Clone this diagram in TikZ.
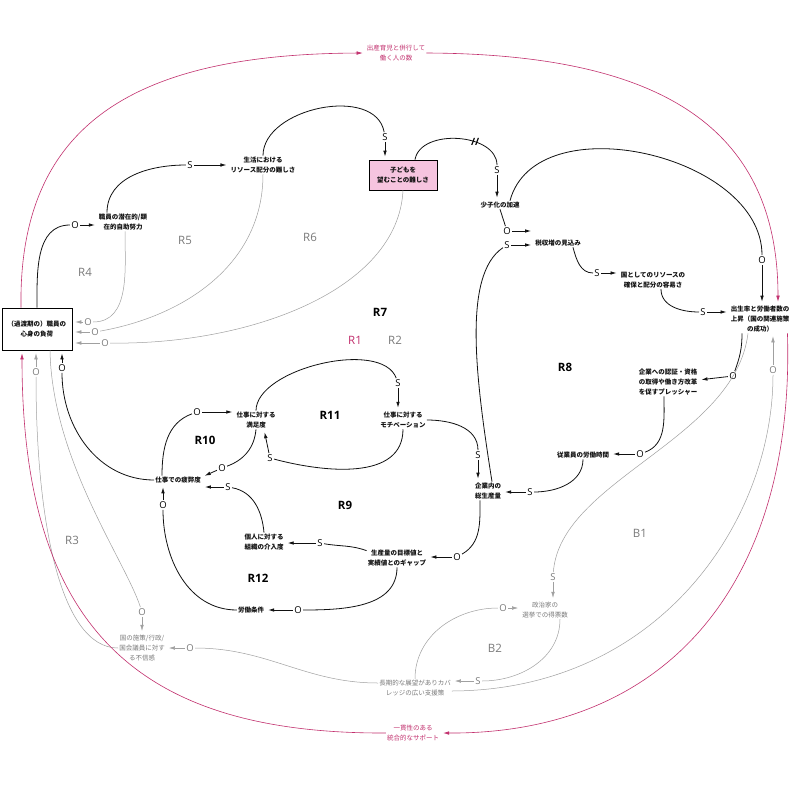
\documentclass[tikz,border=0pt]{standalone}
\usepackage{fontspec}
\setmainfont{Open Sans}
\newfontfamily\jp{Noto Sans CJK JP}
\usetikzlibrary{arrows.meta}
\definecolor{Ink}{HTML}{111111}
\definecolor{Rose}{HTML}{C2306E}
\definecolor{Ash}{HTML}{A0A0A0}
\definecolor{AshText}{HTML}{7A7A7A}
\definecolor{BoxPink}{HTML}{F6C4DF}

\tikzset{
  var/.style={font=\jp\bfseries\fontsize{6.5}{10}\selectfont,align=center,inner sep=1pt,text=Ink},
  gvar/.style={var,font=\jp\fontsize{6.5}{10}\selectfont,text=AshText},
  pvar/.style={gvar,text=Rose},
  pol/.style={font=\fontsize{9.5}{9.5}\selectfont,inner sep=1.2pt},
  gpol/.style={pol,text=AshText},
  loopname/.style={font=\bfseries\fontsize{11.5}{12}\selectfont},
  gloop/.style={font=\fontsize{11.5}{12}\selectfont,text=AshText},
  link/.style={draw=Ink,line width=.8pt},
  glink/.style={draw=Ash,line width=.5pt},
  plink/.style={draw=Rose,line width=.6pt},
  tip/.style={-{Latex[length=6pt,width=3.6pt]},shorten >=3pt},
}

\begin{document}
\begin{tikzpicture}[x=1pt,y=-1pt]
\useasboundingbox (0,0) rectangle (800,806);
\fill[white] (0,0) rectangle (800,806);

% variables
\node[var,draw,line width=.8pt,minimum width=70pt,minimum height=42pt] (load) at (37,329) {（過渡期の）職員の\\心身の負荷};
\node[var,draw,fill=BoxPink,line width=.8pt,minimum width=68pt,minimum height=30pt] (wish) at (403,175) {子どもを\\望むことの難しさ};
\node[var] (effort) at (123,222) {職員の潜在的/顕\\在的自助努力};
\node[var] (life) at (263,165) {生活における\\リソース配分の難しさ};
\node[var] (shrink) at (500,205) {少子化の加速};
\node[var] (tax) at (558,243) {税収増の見込み};
\node[var] (res) at (653,280) {国としてのリソースの\\確保と配分の容易さ};
\node[var] (birth) at (760,319) {出生率と労働者数の\\上昇（国の関連施策\\の成功）};
\node[var] (kig) at (668,382) {企業への認証・資格\\の取得や働き方改革\\を促すプレッシャー};
\node[var] (hours) at (583,455) {従業員の労働時間};
\node[var] (org) at (488,491) {企業内の\\総生産量};
\node[var] (sat) at (256,420) {仕事に対する\\満足度};
\node[var] (motiv) at (403,420) {仕事に対する\\モチベーション};
\node[var] (hihei) at (178,480) {仕事での疲弊度};
\node[var] (kainyu) at (264,542) {個人に対する\\組織の介入度};
\node[var] (gap) at (397,558) {生産量の目標値と\\実績値とのギャップ};
\node[var] (cond) at (251,610) {労働条件};
\node[gvar] (fushin) at (142,648) {国の施策/行政/\\国会議員に対す\\る不信感};
\node[gvar] (pol) at (545,610) {政治家の\\選挙での得票数};
\node[gvar] (long) at (415,688) {長期的な展望がありカバ\\レッジの広い支援策};
\node[pvar] (top) at (396,53) {出産育児と併行して\\働く人の数};
\node[pvar] (bottom) at (413,733) {一貫性のある\\統合的なサポート};

% polarities
\node[pol] (o1) at (75,225) {O};
\node[pol] (s1) at (190,165) {S};
\node[pol] (s2) at (385,137) {S};
\node[pol] (s3) at (497,170) {S};
\node[pol] (o2) at (762,260) {O};
\node[pol] (o3) at (507,231) {O};
\node[pol] (s4) at (507,245) {S};
\node[pol] (s5) at (597,273) {S};
\node[pol] (s6) at (703,312) {S};
\node[pol] (o4) at (733,376) {O};
\node[pol] (o5) at (640,454) {O};
\node[pol] (s7) at (530,492) {S};
\node[pol] (s8) at (478,455) {S};
\node[pol] (o6) at (457,557) {O};
\node[pol] (s9) at (320,543) {S};
\node[pol] (o7) at (298,610) {O};
\node[pol] (o8) at (163,505) {O};
\node[pol] (o9) at (197,412) {O};
\node[pol] (o10) at (222,468) {O};
\node[pol] (s10) at (228,487) {S};
\node[pol] (s11) at (398,383) {S};
\node[pol] (s12) at (270,458) {S};
\node[pol] (o11) at (62,368) {O};
\node[gpol] (go1) at (88,322) {O};
\node[gpol] (go2) at (95,332) {O};
\node[gpol] (go3) at (105,343) {O};
\node[gpol] (go4) at (142,612) {O};
\node[gpol] (go5) at (36,372) {O};
\node[gpol] (go6) at (190,648) {O};
\node[gpol] (go7) at (503,608) {O};
\node[gpol] (gs1) at (478,681) {S};
\node[gpol] (gs2) at (553,577) {S};
\node[gpol] (go8) at (773,370) {O};

% loops
\node[gloop,text=Rose] (r1) at (355,340) {R1};
\node[gloop] (r2) at (395,340) {R2};
\node[gloop] (r3) at (72,540) {R3};
\node[gloop] (r4) at (85,272) {R4};
\node[gloop] (r5) at (185,240) {R5};
\node[gloop] (r6) at (310,237) {R6};
\node[loopname] (r7) at (380,312) {R7};
\node[loopname] (r8) at (565,367) {R8};
\node[loopname] (r9) at (345,505) {R9};
\node[loopname] (r10) at (205,440) {R10};
\node[loopname] (r11) at (330,415) {R11};
\node[loopname] (r12) at (258,578) {R12};
\node[gloop] (b1) at (640,533) {B1};
\node[gloop] (b2) at (495,648) {B2};

% black links
\draw[link] (load.north) to[out=90,in=180] (o1);
\draw[link,tip] (o1) -- (o1 -| effort.west);
\draw[link] ([xshift=-16]effort.north) to[out=90,in=180] (s1);
\draw[link,tip] (s1) -- (s1 -| life.west);
\draw[link] (life.north) to[out=90,in=100] (s2);
\draw[link,tip] (s2) -- (s2 |- wish.north);
\draw[link] ([xshift=12]wish.north) to[out=80,in=90] node[pos=.65,font=\bfseries\fontsize{10}{10}\selectfont] (delay) {//} (s3);
\draw[link,tip] (s3) -- (s3 |- shrink.north);
\draw[link] ([xshift=10]shrink.north) to[out=75,in=90] (o2);
\draw[link,tip] (o2) -- (o2 |- birth.north);
\draw[link] (shrink.south) -- (o3);
\draw[link,tip] (o3) -- (o3 -| tax.west);
\draw[link] ([xshift=4]org.north) .. controls (476,380) and (462,275) .. (s4);
\draw[link,tip] (s4) -- (s4 -| tax.west);
\draw[link] ([xshift=15]tax.south) to[out=-75,in=180] (s5);
\draw[link,tip] (s5) -- (s5 -| res.west);
\draw[link] ([xshift=8]res.south) to[out=-90,in=180] (s6);
\draw[link,tip] (s6) -- (s6 -| birth.west);
\draw[link] ([xshift=-18]birth.south) to[out=-90,in=70] (o4);
\draw[link,tip] (o4) -- ([yshift=2]kig.east);
\draw[link] ([xshift=-4]kig.south) to[out=-90,in=20] (o5);
\draw[link,tip] (o5) -- (o5 -| hours.east);
\draw[link] (hours.south) to[out=-90,in=0] (s7);
\draw[link,tip] (s7) -- (s7 -| org.east);
\draw[link] (motiv.east) to[out=0,in=90] (s8);
\draw[link,tip] (s8) -- (s8 |- org.north);
\draw[link] ([xshift=-8]org.south) to[out=-90,in=30] (o6);
\draw[link,tip] (o6) -- (o6 -| gap.east);
\draw[link] ([yshift=-2]gap.north west) to[out=160,in=-10] (s9);
\draw[link,tip] (s9) -- (s9 -| kainyu.east);
\draw[link] (gap.south) to[out=-90,in=0] (o7);
\draw[link,tip] (o7) -- (o7 -| cond.east);
\draw[link] (cond.west) to[out=180,in=-90] (o8);
\draw[link,tip] (o8) -- (o8 |- hihei.south);
\draw[link] ([xshift=-16]hihei.north) to[out=90,in=200] (o9);
\draw[link,tip] (o9) -- (o9 -| sat.west);
\draw[link] (sat.south) to[out=-95,in=20] (o10);
\draw[link,tip] (o10) -- ([yshift=3]hihei.east);
\draw[link] (kainyu.north) to[out=95,in=-10] (s10);
\draw[link,tip] (s10) -- (s10 -| hihei.east);
\draw[link] (sat.north) to[out=90,in=110,looseness=.75] (s11);
\draw[link,tip] (s11) -- (s11 |- motiv.north);
\draw[link] (motiv.south) to[out=-90,in=-15] (s12);
\draw[link,tip] (s12) -- ([xshift=8]sat.south);
\draw[link] (hihei.west) to[out=180,in=-90] (o11);
\draw[link,tip] (o11) -- (o11 |- load.south);

% grey links
\draw[glink] ([xshift=2]effort.south) to[out=-90,in=0] (go1);
\draw[glink,tip] (go1) -- (go1 -| load.east);
\draw[glink] (life.south) to[out=-90,in=10] (go2);
\draw[glink,tip] (go2) -- (go2 -| load.east);
\draw[glink] (wish.south) .. controls (398,290) and (250,345) .. (go3);
\draw[glink,tip] (go3) -- (go3 -| load.east);
\draw[glink] ([xshift=13]load.south) .. controls (52,460) and (125,560) .. (go4);
\draw[glink,tip] (go4) -- (go4 |- fushin.north);
\draw[glink] (fushin.west) .. controls (60,648) and (36,520) .. (go5);
\draw[glink,tip] (go5) -- (go5 |- load.south);
\draw[glink] ([yshift=5]long.west) to[out=180,in=0] (go6);
\draw[glink,tip] (go6) -- (go6 -| fushin.east);
\draw[glink] (long.north) to[out=90,in=180] (go7);
\draw[glink,tip] (go7) -- (go7 -| pol.west);
\draw[glink] ([xshift=15]pol.south) to[out=-90,in=0] (gs1);
\draw[glink,tip] (gs1) -- (gs1 -| long.east);
\draw[glink] ([xshift=-12]birth.south) .. controls (735,440) and (560,480) .. (gs2);
\draw[glink,tip] (gs2) -- (gs2 |- pol.north);
\draw[glink] ([yshift=-3]long.east) .. controls (660,690) and (773,520) .. (go8);
\draw[glink,tip] (go8) -- (go8 |- birth.south);

% pink links
\draw[plink,tip] ([xshift=-16]load.north) .. controls (18,120) and (140,54) .. (top.west);
\draw[plink,tip] (top.east) .. controls (650,54) and (778,120) .. ([xshift=18]birth.north);
\draw[plink,tip] ([xshift=-3]birth.south east) .. controls (795,580) and (670,734) .. (bottom.east);
\draw[plink,tip] (bottom.west) .. controls (140,734) and (22,630) .. ([xshift=-15]load.south);
\end{tikzpicture}
\end{document}
